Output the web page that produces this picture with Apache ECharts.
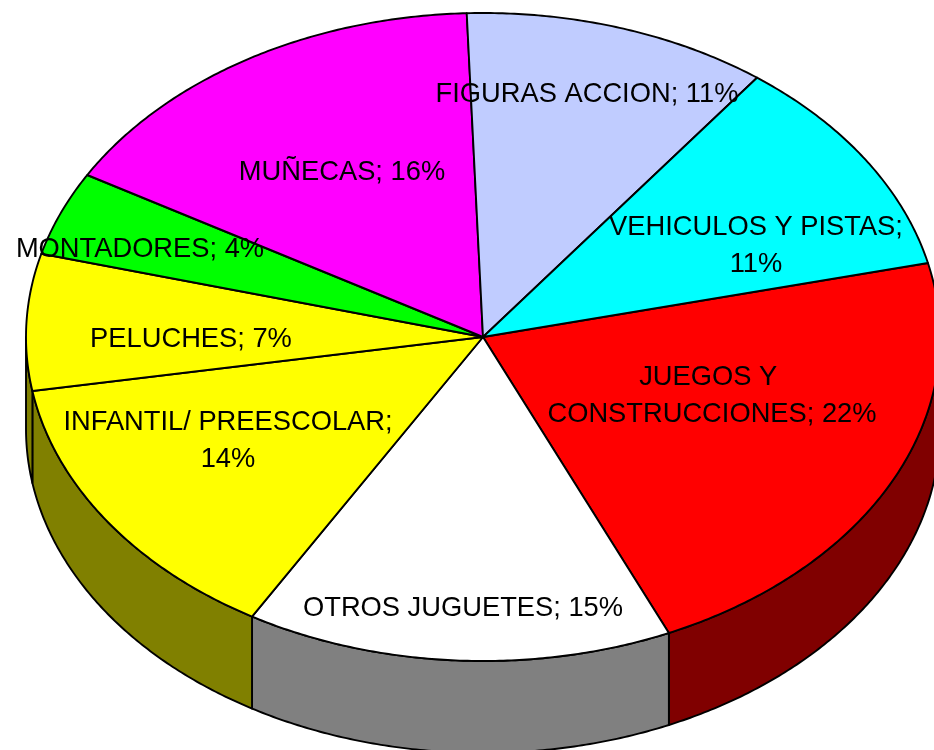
<!DOCTYPE html>
<html>
<head>
<meta charset="utf-8">
<style>html,body{margin:0;padding:0;background:#fff}#c{width:934px;height:750px}</style>
<script src="https://cdn.jsdelivr.net/npm/echarts@6/dist/echarts.min.js"></script>
</head>
<body>
<div id="c"></div>
<script>
const categories = ['JUEGOS Y \nCONSTRUCCIONES','OTROS JUGUETES','INFANTIL/ PREESCOLAR','PELUCHES','MONTADORES','MUÑECAS','FIGURAS ACCION','VEHICULOS Y PISTAS'];
const shares = [22, 15.1, 13.9, 6.8, 4.2, 16.1, 10.8, 11.1];
const topColors = ['#ff0000','#ffffff','#ffff00','#ffff00','#00ff00','#ff00ff','#c0ccff','#00ffff'];
const wallColors = ['#800000','#808080','#808000','#808000','#008000','#800080','#606680','#008080'];
const breakBeforePercent = [false,false,true,false,false,false,false,true];

const CX = 483, CY = 337, RX = 457, RY = 324, DEPTH = 92, START = -13.2;
const LABEL_CENTERS = [[712,396],[463,608],[228,440.5],[191,339],[140,249],[342,172],[587,94],[756,245.5]];
const FONT = '27.3px "Liberation Sans", Arial, sans-serif';

const total = shares.reduce((a,b)=>a+b,0);
const bounds = [];
shares.reduce((acc,v,i)=>{ const next = acc + v/total*360; bounds[i]=[acc,next]; return next; }, START);
const pt = (deg,dy)=>{ const r=deg*Math.PI/180; return [CX+RX*Math.cos(r), CY+RY*Math.sin(r)+(dy||0)]; };
function arc(a,b,dy){ const pts=[]; const n=Math.max(2,Math.ceil(Math.abs(b-a)*2)); for(let k=0;k<=n;k++) pts.push(pt(a+(b-a)*k/n,dy)); return pts; }
const lineStyle = {stroke:'#000',lineWidth:1.9,lineJoin:'round'};

function renderWall(params,api){
  const i=params.dataIndex; const [a,b]=bounds[i];
  const segs=[[a,b],[a-360,b-360]];
  const children=[];
  segs.forEach(([s,e])=>{
    const lo=Math.max(s,0), hi=Math.min(e,180);
    if(hi>lo){
      const pts=arc(lo,hi,0).concat(arc(hi,lo,DEPTH));
      children.push({type:'polygon',shape:{points:pts},style:Object.assign({fill:wallColors[i]},lineStyle)});
    }
  });
  return {type:'group',children};
}
function renderTop(params,api){
  const i=params.dataIndex; const [a,b]=bounds[i];
  const pts=[[CX,CY]].concat(arc(a,b,0));
  return {type:'polygon',shape:{points:pts},style:Object.assign({fill:topColors[i]},lineStyle)};
}
function renderLabel(params,api){
  const i=params.dataIndex; const c=LABEL_CENTERS[i];
  const pct=Math.round(api.value(0))+'%';
  const text=categories[i]+';'+(breakBeforePercent[i]?'\n':' ')+pct;
  return {type:'text',x:c[0],y:c[1],style:{text:text,font:FONT,fill:'#000',align:'center',verticalAlign:'middle',lineHeight:37}};
}
const data = shares.map((v,i)=>({name:categories[i],value:[v]}));
const chart = echarts.init(document.getElementById('c'),null,{renderer:'canvas',width:934,height:750});
chart.setOption({
  animation:false,
  backgroundColor:'#ffffff',
  series:[
    {type:'custom',coordinateSystem:'none',renderItem:renderWall,data:data,z:1,silent:true},
    {type:'custom',coordinateSystem:'none',renderItem:renderTop,data:data,z:2,silent:true},
    {type:'custom',coordinateSystem:'none',renderItem:renderLabel,data:data,z:3,silent:true}
  ]
});
</script>
</body>
</html>
